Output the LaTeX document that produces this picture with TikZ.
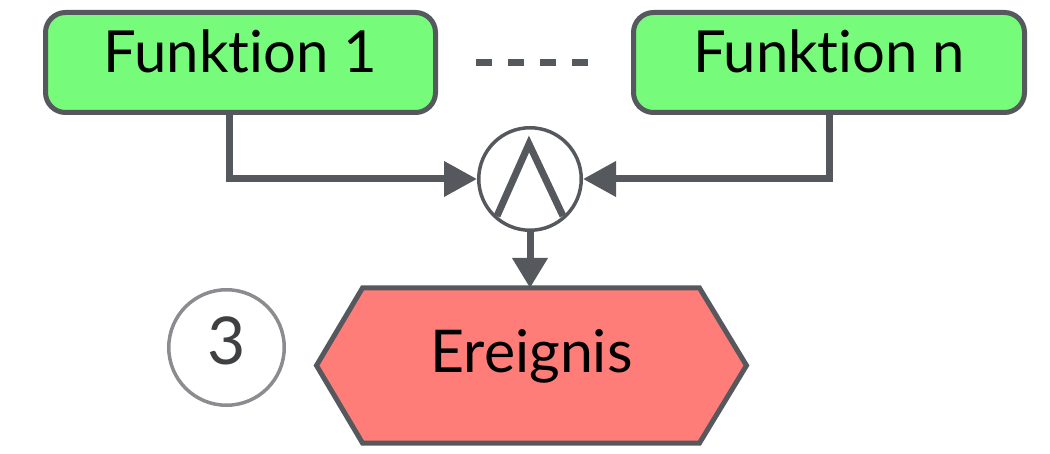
\documentclass[tikz,border=0pt]{standalone}
\usepackage{fontspec}
\setmainfont{Lato}[Ligatures={NoCommon}]
\usetikzlibrary{arrows.meta,backgrounds}
\definecolor{edgegray}{HTML}{55585D}
\definecolor{fgreen}{HTML}{76FB7B}
\definecolor{fred}{HTML}{FF7D78}
\definecolor{ringgray}{HTML}{8A8C8F}
\definecolor{digitgray}{HTML}{3F4042}
\begin{document}
\begin{tikzpicture}[x=1pt,y=-1pt,
  func/.style={draw=edgegray, fill=fgreen, line width=5pt, rounded corners=20pt,
    minimum height=100pt, inner sep=0pt, text height=40pt, text depth=19pt,
    font=\fontsize{58}{60}\selectfont},
  evtext/.style={minimum width=425pt, minimum height=150pt, inner sep=0pt, outer sep=2.5pt,
    text height=40pt, text depth=25pt, font=\fontsize{59}{60}\selectfont},
  evshape/.style={draw=edgegray, fill=fred, line width=5pt, line join=miter},
  gate/.style={circle, draw=edgegray, line width=3.5pt, minimum size=102.5pt, inner sep=0pt},
  wedge/.style={draw=edgegray, line width=7pt, line join=miter},
  ring/.style={circle, draw=ringgray, line width=3.5pt, minimum size=115.5pt, inner sep=0pt,
    text=digitgray, text height=48pt, text depth=13pt, font=\fontsize{66}{70}\selectfont},
  conn/.style={draw=edgegray, line width=7pt, -{Triangle[length=33pt,width=34pt]}},
  dots/.style={draw=edgegray, line width=7pt, dash pattern=on 16pt off 16pt}
]
\useasboundingbox (0,0) rectangle (1050,454);

\node[func, minimum width=390pt] (f1) at (240.5,62.5) {Funktion 1};
\node[func, minimum width=391pt] (fn) at (829,62.5) {Funktion n};
\draw[dots] ([xshift=38pt]f1.east) -- ([xshift=-43pt]fn.west);

\node[gate] (and) at (530,179) {};
\draw[wedge] ([shift={(-33,37)}]and.center) -- ([shift={(-1,-35)}]and.center) -- ([shift={(33,37)}]and.center);

\node[evtext] (ev) at (531.5,365.5) {Ereignis};
\begin{scope}[on background layer]
  \path[evshape] (ev.west) -- ([xshift=46pt]ev.north west) -- ([xshift=-47pt]ev.north east)
    -- (ev.east) -- ([xshift=-47pt]ev.south east) -- ([xshift=46pt]ev.south west) -- cycle;
\end{scope}

\node[ring] (num) at (226.5,347.5) {3};

\draw[conn] ([xshift=-11.5pt]f1.south) |- (and.west);
\draw[conn] (fn.south) |- (and.east);
\draw[conn, -{Triangle[length=30pt,width=34pt]}] (and.south) -- (and.south |- ev.north);
\end{tikzpicture}
\end{document}
